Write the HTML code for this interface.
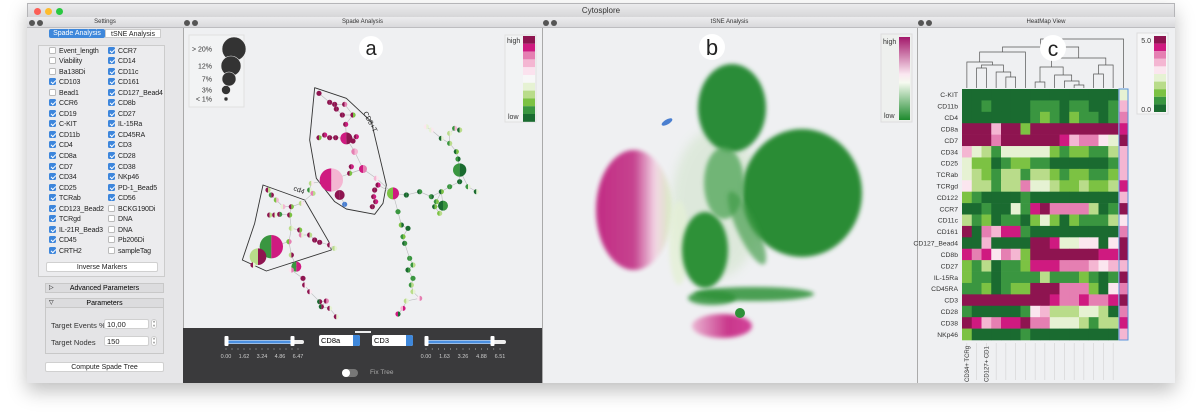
<!DOCTYPE html>
<html><head><meta charset="utf-8">
<style>
*{box-sizing:border-box;margin:0;padding:0}
body{width:1200px;height:412px;background:#fff;font-family:"Liberation Sans",sans-serif;position:relative;overflow:hidden}
.abs{position:absolute}
#win{left:27px;top:3px;width:1148px;height:380px;background:#e9e9eb;border:1px solid #b5b5b8;box-shadow:0 8px 18px rgba(0,0,0,.25)}
.ph{position:absolute;height:11px;background:linear-gradient(#ececee,#d9d9dc);border-bottom:1px solid #bdbdc0;font-size:6px;color:#333;text-align:center;line-height:11px}
.pbody{position:absolute;background:#eff0f2;border-left:1px solid #aaa}
.cb{position:absolute;font-size:7px;color:#222;line-height:9px;white-space:nowrap;letter-spacing:-0.1px}
.cb i{display:inline-block;width:7px;height:7px;border-radius:1.5px;vertical-align:-1px;margin-right:3px;border:1px solid #bbb;background:#fff}
.cb i.on{background:#3d86dc;border-color:#3d86dc;position:relative}
.cb i.on:after{content:"";position:absolute;left:1.5px;top:0px;width:2px;height:4px;border:solid #fff;border-width:0 1.2px 1.2px 0;transform:rotate(45deg)}
.btn{position:absolute;background:#fff;border:1px solid #d0d0d0;border-radius:2px;font-size:7px;text-align:center;color:#222}
.hl{font-size:7.5px;color:#333}
</style></head><body>
<div id="win" class="abs">
 <div class="abs" style="left:0;top:0;width:1146px;height:14px;background:linear-gradient(#ebebed,#d6d6d8);border-bottom:1px solid #b8b8b8;text-align:center;font-size:8px;line-height:14px;color:#333">Cytosplore</div>
 <div class="abs" style="left:6px;top:4px;width:7px;height:7px;border-radius:50%;background:#fc5f57"></div>
 <div class="abs" style="left:17px;top:4px;width:7px;height:7px;border-radius:50%;background:#fdbc2e"></div>
 <div class="abs" style="left:28px;top:4px;width:7px;height:7px;border-radius:50%;background:#29c840"></div>
</div>

<!-- Settings panel -->
<div class="ph" style="left:27px;top:17px;width:156px">Settings</div>
<div class="pbody" style="left:27px;top:28px;width:156px;height:355px;background:#e6e6e8;border-left:none"></div>
<div class="abs" style="left:49px;top:29px;width:56px;height:9px;background:#3f88db;color:#fff;font-size:7px;text-align:center;line-height:9px;border-radius:2px">Spade Analysis</div>
<div class="abs" style="left:105px;top:29px;width:56px;height:9px;background:#fff;color:#222;font-size:7px;text-align:center;line-height:9px;border:1px solid #ccc">tSNE Analysis</div>
<div class="abs" style="left:38px;top:45px;width:127px;height:232px;border:1px solid #ccc;background:#ececee"></div>
<div id="cbs"></div>
<div class="btn" style="left:46px;top:262px;width:112px;height:10px;line-height:9px">Inverse Markers</div>
<div class="abs" style="left:45px;top:283px;width:119px;height:10px;background:#dcdcde;border:1px solid #c8c8c8;font-size:7px;line-height:9px;text-align:center"><span style="position:absolute;left:3px;font-size:6px">▷</span>Advanced Parameters</div>
<div class="abs" style="left:45px;top:298px;width:119px;height:56px;background:#e4e4e6;border:1px solid #c8c8c8"></div>
<div class="abs" style="left:45px;top:298px;width:119px;height:10px;background:#dcdcde;border:1px solid #c8c8c8;font-size:7px;line-height:9px;text-align:center"><span style="position:absolute;left:3px;font-size:6px">▽</span>Parameters</div>
<div class="abs hl" style="left:51px;top:321px">Target Events %</div>
<div class="btn" style="left:104px;top:319px;width:45px;height:10px;text-align:left;padding-left:2px;line-height:9px;font-size:7.5px">10,00</div>
<div class="abs" style="left:151px;top:319px;width:6px;height:10px;border:1px solid #ccc;border-radius:3px;background:#fff;font-size:4px;text-align:center;line-height:4px">˄<br>˅</div>
<div class="abs hl" style="left:51px;top:338px">Target Nodes</div>
<div class="btn" style="left:104px;top:336px;width:45px;height:10px;text-align:left;padding-left:2px;line-height:9px;font-size:7.5px">150</div>
<div class="abs" style="left:151px;top:336px;width:6px;height:10px;border:1px solid #ccc;border-radius:3px;background:#fff;font-size:4px;text-align:center;line-height:4px">˄<br>˅</div>
<div class="btn" style="left:45px;top:362px;width:119px;height:10px;line-height:9px">Compute Spade Tree</div>

<!-- Spade panel -->
<div class="ph" style="left:183px;top:17px;width:359px">Spade Analysis</div>
<div class="pbody" style="left:183px;top:28px;width:359px;height:300px"></div>
<svg class="abs" style="left:0;top:0" width="1200" height="412" id="spade"></svg>
<div class="abs" style="left:183px;top:328px;width:359px;height:55px;background:#3a3a3c"></div>
<svg class="abs" style="left:0;top:0" width="1200" height="412" id="ctl"></svg>
<div class="abs" style="left:319px;top:335px;width:41px;height:11px;background:#fff;border-radius:2px;font-size:7.5px;line-height:11px;padding-left:2px">CD8a<span style="position:absolute;right:0;top:0;width:7px;height:11px;background:#3f88db;border-radius:0 2px 2px 0"></span></div>
<div class="abs" style="left:372px;top:335px;width:41px;height:11px;background:#fff;border-radius:2px;font-size:7.5px;line-height:11px;padding-left:2px">CD3<span style="position:absolute;right:0;top:0;width:7px;height:11px;background:#3f88db;border-radius:0 2px 2px 0"></span></div>
<div class="abs" style="left:342px;top:369px;width:16px;height:8px;background:#777;border-radius:4px"><span style="position:absolute;left:0;top:0;width:8px;height:8px;border-radius:50%;background:#fff"></span></div>
<div class="abs" style="left:370px;top:369px;font-size:6.5px;color:#aaa">Fix Tree</div>

<!-- tSNE panel -->
<div class="ph" style="left:542px;top:17px;width:375px">tSNE Analysis</div>
<div class="pbody" style="left:542px;top:28px;width:375px;height:355px"></div>
<svg class="abs" style="left:542px;top:28px" width="375" height="355">
 <defs>
  <filter id="bl" x="-30%" y="-30%" width="160%" height="160%"><feGaussianBlur stdDeviation="2"/></filter>
  <filter id="bl2" x="-30%" y="-30%" width="160%" height="160%"><feGaussianBlur stdDeviation="5"/></filter>
  <linearGradient id="pk" x1="0" x2="1" y1="0" y2="0"><stop offset="0" stop-color="#c0237f"/><stop offset="0.5" stop-color="#c43a8a"/><stop offset="0.78" stop-color="#f2d4e4"/><stop offset="1" stop-color="#d7ebc0"/></linearGradient>
  <linearGradient id="pk2" x1="0" x2="1"><stop offset="0" stop-color="#eab5d2"/><stop offset="0.6" stop-color="#c9378b"/><stop offset="1" stop-color="#d3449a"/></linearGradient>
  <linearGradient id="tl" x1="0" x2="0" y1="0" y2="1"><stop offset="0" stop-color="#a3186b"/><stop offset="0.45" stop-color="#fbe8f1"/><stop offset="0.55" stop-color="#f6faf0"/><stop offset="1" stop-color="#1e8a2e"/></linearGradient>
 </defs>
 <g>
 <ellipse cx="175" cy="175" rx="45" ry="75" fill="#b7d9a8" opacity=".3" filter="url(#bl2)"/>
 <ellipse cx="92" cy="182" rx="38" ry="60" fill="url(#pk)" opacity=".95" filter="url(#bl)"/>
 <ellipse cx="180" cy="298" rx="30" ry="12" fill="url(#pk2)" filter="url(#bl)"/>
 <ellipse cx="137" cy="215" rx="10" ry="42" fill="#e4f0d6" opacity=".8" filter="url(#bl)"/>
 <ellipse cx="190" cy="80" rx="34" ry="44" fill="#2b8c38" filter="url(#bl)"/>
 <ellipse cx="260" cy="165" rx="60" ry="64" fill="#2a8c36" filter="url(#bl)"/>
 <ellipse cx="163" cy="222" rx="23" ry="38" fill="#2e9139" filter="url(#bl)"/>
 <ellipse cx="182" cy="155" rx="20" ry="36" fill="#4ea455" opacity=".75" filter="url(#bl)"/>
 <ellipse cx="205" cy="200" rx="10" ry="40" fill="#3d9a45" opacity=".65" filter="url(#bl)" transform="rotate(-25 205 200)"/>
 <ellipse cx="212" cy="266" rx="60" ry="7" fill="#2e9139" opacity=".85" filter="url(#bl)"/>
 <ellipse cx="170" cy="270" rx="24" ry="7" fill="#2e9139" opacity=".85" filter="url(#bl)"/>
 <ellipse cx="198" cy="285" rx="5" ry="5" fill="#2e9139"/>
 <ellipse cx="125" cy="94" rx="6" ry="2.5" fill="#4a7fd0" transform="rotate(-30 125 94)"/>
 </g>
 <circle cx="170" cy="19" r="13" fill="#fff"/>
 <text x="170" y="27" font-size="22" text-anchor="middle" font-family="Liberation Sans" fill="#222">b</text>
 <rect x="339" y="6" width="31" height="88" fill="#eef0ee" stroke="#ddd"/>
 <rect x="357" y="9" width="11" height="83" fill="url(#tl)"/>
 <text x="341" y="16" font-size="7" fill="#333">high</text>
 <text x="342" y="90" font-size="7" fill="#333">low</text>
</svg>

<!-- Heatmap panel -->
<div class="ph" style="left:917px;top:17px;width:258px">HeatMap View</div>
<div class="pbody" style="left:917px;top:28px;width:258px;height:355px"></div>
<svg class="abs" style="left:0;top:0" width="1200" height="412" id="heat"></svg>

<!-- panel header icons -->
<svg class="abs" style="left:0;top:0" width="1200" height="412">
 <g fill="#555"><circle cx="32" cy="23" r="3"/><circle cx="40" cy="23" r="3"/><circle cx="187" cy="23" r="3"/><circle cx="195" cy="23" r="3"/><circle cx="546" cy="23" r="3"/><circle cx="554" cy="23" r="3"/><circle cx="921" cy="23" r="3"/><circle cx="929" cy="23" r="3"/></g>
</svg>

<script>
var NS="http://www.w3.org/2000/svg";
function mk(p,t,a){var e=document.createElementNS(NS,t);for(var k in a)e.setAttribute(k,a[k]);p.appendChild(e);return e;}
var PAL=["#1a6b30","#3a9640","#7cc243","#b9dc8a","#e6f2d3","#fbe6ef","#f4b6d2","#e57fb2","#cf1a80","#8e1450","#4a7fd0"];

// ---------- checkboxes ----------
var leftMarkers=["Event_length","Viability","Ba138Di","CD103","Bead1","CCR6","CD19","C-KIT","CD11b","CD4","CD8a","CD7","CD34","CD25","TCRab","CD123_Bead2","TCRgd","IL-21R_Bead3","CD45","CRTH2"];
var leftOn=[0,0,0,1,0,1,1,1,1,1,1,1,1,1,1,1,1,1,1,1];
var rightMarkers=["CCR7","CD14","CD11c","CD161","CD127_Bead4","CD8b","CD27","IL-15Ra","CD45RA","CD3","CD28","CD38","NKp46","PD-1_Bead5","CD56","BCKG190Di","DNA","DNA","Pb206Di","sampleTag"];
var rightOn=[1,1,1,1,1,1,1,1,1,1,1,1,1,1,1,0,0,0,0,0];
var cbs=document.getElementById('cbs');
function addCb(lbl,on,x,y){var d=document.createElement('div');d.className='cb';d.style.left=x+'px';d.style.top=y+'px';
 d.innerHTML='<i class="'+(on?'on':'')+'"></i>'+lbl;
 
 
 cbs.appendChild(d);}
for(var i=0;i<20;i++){addCb(leftMarkers[i],leftOn[i],49,46.5+i*10.55);addCb(rightMarkers[i],rightOn[i],108,46.5+i*10.55);}

// ---------- spade tree ----------
var sp=document.getElementById('spade');
function P(zx,zy){return [zx/3+183,zy/3+15];}
var lg=mk(sp,'g',{});


mk(lg,'rect',{x:189,y:35,width:55,height:72,fill:'#f2f3f4',stroke:'#e0e0e0'});
var sizeLabels=["> 20%","12%","7%","3%","< 1%"];
var sizeR=[12,10,7,4.5,2];
var sizeY=[49,66,79,90,99];
var sizeX=[234,231,229,226,226];
for(var i=0;i<5;i++){mk(lg,'circle',{cx:sizeX[i],cy:sizeY[i],r:sizeR[i],fill:'#333',stroke:'#eee','stroke-width':0.6});
 var t=mk(lg,'text',{x:212,y:sizeY[i]+2.5,'font-size':7,'text-anchor':'end',fill:'#333'});t.textContent=sizeLabels[i];}
var cl=mk(sp,'g',{});


mk(cl,'rect',{x:505,y:35,width:31,height:87,fill:'#f2f3f4',stroke:'#e0e0e0'});
var spLeg=["#8e1450","#cf1a80","#e57fb2","#f4b6d2","#fbe2ee","#f7f7f7","#e6f2d3","#b9dc8a","#7cc243","#3a9640","#1a6b30"];
for(var i=0;i<11;i++)mk(cl,'rect',{x:523,y:36+i*7.8,width:12,height:7.8,fill:spLeg[i]});
var t=mk(cl,'text',{x:507,y:43,'font-size':7,fill:'#333'});t.textContent='high';
t=mk(cl,'text',{x:508,y:119,'font-size':7,fill:'#333'});t.textContent='low';
mk(sp,'circle',{cx:371,cy:48,r:12,fill:'#fff'});
t=mk(sp,'text',{x:371,y:55,'font-size':20,'text-anchor':'middle',fill:'#222'});t.textContent='a';
var cd8=[[395,218],[490,250],[565,320],[610,510],[600,565],[575,598],[490,582],[455,560],[400,490],[380,375]];
var cd4=[[240,510],[365,555],[440,685],[445,705],[250,768],[178,735],[215,625]];
function poly(pts,name){var s=pts.map(function(p){var q=P(p[0],p[1]);return q[0]+','+q[1];}).join(' ');
 var e=mk(sp,'polygon',{points:s,fill:'none',stroke:'#333','stroke-width':0.9,'stroke-linejoin':'round'});
 
 }
poly(cd8,'cd8-cluster-outline');poly(cd4,'cd4-cluster-outline');
t=mk(sp,'text',{x:0,y:0,'font-size':7,fill:'#222',transform:'translate(293,190) rotate(22)'});t.textContent='cd4';
t=mk(sp,'text',{x:0,y:0,'font-size':7,fill:'#222',transform:'translate(363,113) rotate(62)'});t.textContent='CD8+T';
var N=[];
function chain(parent,list){var p=parent;list.forEach(function(n){N.push([n[0],n[1],n[2],n[3],n[4],p]);p=N.length-1;});return p;}
var hub=chain(-1,[[630,535,18,2,8]]);
var r1=chain(hub,[[670,540,7,0,0],[710,530,7,0,1],[745,545,7,1,0]]);
var r2=chain(r1,[[775,530,7,0,2]]);
var r3=chain(r2,[[800,515,6,1,1],[830,500,6,0,0],[830,465,20,1,0]]);
chain(r3,[[855,515,5,1,4],[880,530,5,0,4]]);
var r4=chain(r3,[[825,432,6,1,0],[820,410,5,0,2],[800,385,5,1,3]]);
chain(r4,[[775,370,5,0,4],[745,345,5,4,5],[730,335,5,5,4]]);
chain(r4,[[800,355,5,3,4],[815,340,5,1,6],[830,345,4,0,3]]);
chain(r2,[[780,572,15,0,1],[755,575,6,0,2],[770,595,5,2,3]]);
chain(r2,[[760,560,5,1,2]]);
chain(hub,[[645,590,6,1,1],[655,630,6,2,0],[675,640,6,0,0],[660,665,5,1,2],[665,685,5,0,1],[680,730,6,1,1],[690,750,6,1,3],[675,765,6,0,1],[690,790,6,1,1],[685,810,6,1,3],[690,830,6,3,4],[710,850,6,5,7],[670,858,5,3,4],[660,880,5,6,8],[645,897,5,8,0]]);
var c1=chain(hub,[[580,490,8,6,5],[540,462,12,8,7]]);
chain(c1,[[500,475,6,9,2],[505,455,5,9,8]]);
var c2=chain(c1,[[515,410,10,7,6],[490,370,18,8,9]]);
chain(hub,[[585,510,6,9,8],[575,525,6,9,9],[572,545,6,9,8],[578,560,6,9,8],[568,575,6,9,9]]);
var c3=chain(c2,[[488,328,6,9,8],[510,300,8,9,2]]);
chain(c3,[[478,300,6,9,9],[460,282,6,9,9],[440,262,6,9,9],[408,235,6,9,9]]);
chain(c3,[[485,268,6,9,7],[455,268,6,9,9]]);
chain(c2,[[458,368,6,9,9],[440,368,6,9,9],[425,360,6,9,8],[408,368,6,9,2]]);
chain(c2,[[520,365,6,9,8],[510,378,6,9,9]]);
var bp=chain(c1,[[445,495,35,8,6]]);
chain(bp,[[470,540,15,9,9],[485,568,6,10,10]]);
var d0=chain(bp,[[385,505,5,3,5],[380,525,5,1,4],[390,535,5,7,3],[355,565,6,3,5],[325,575,5,9,2]]);
chain(d0,[[300,575,5,4,6],[280,555,5,2,6],[265,540,5,1,9],[255,525,5,9,3]]);
var d1=chain(d0,[[320,600,6,9,2]]);
chain(d1,[[290,598,5,9,1],[275,600,5,9,4],[260,600,5,9,3]]);
var d2=chain(d1,[[325,640,5,3,4]]);
chain(d2,[[350,645,6,9,2],[355,660,5,7,4],[380,660,6,9,3],[395,675,6,9,9],[410,682,6,9,9],[440,690,6,9,5],[455,700,5,3,4]]);
var d3=chain(d2,[[318,680,8,2,7]]);
chain(d3,[[265,695,35,1,8],[225,725,25,3,9],[210,750,4,9,4]]);
chain(d3,[[325,720,6,3,9],[340,755,15,1,8],[325,765,6,5,7],[360,790,6,9,9],[365,810,6,9,5],[380,830,6,9,5],[410,860,6,0,9],[430,858,6,9,7],[415,875,6,0,9],[440,880,6,9,4],[460,905,5,9,4]]);
var eg=mk(sp,'g',{stroke:'#b9b9bb','stroke-width':0.6});
N.forEach(function(n){if(n[5]<0)return;var a=P(n[0],n[1]),b=P(N[n[5]][0],N[n[5]][1]);mk(eg,'line',{x1:a[0],y1:a[1],x2:b[0],y2:b[1]});});
N.forEach(function(n,i){var c=P(n[0],n[1]),r=Math.max(n[2]/3,2.6);
 var g=mk(sp,'g',{});
 
 
 mk(g,'path',{d:'M'+c[0]+','+(c[1]-r)+' A'+r+','+r+' 0 0 0 '+c[0]+','+(c[1]+r)+' Z',fill:PAL[n[3]]});
 mk(g,'path',{d:'M'+c[0]+','+(c[1]-r)+' A'+r+','+r+' 0 0 1 '+c[0]+','+(c[1]+r)+' Z',fill:PAL[n[4]]});
});

// ---------- slider controls ----------
var ctl=document.getElementById('ctl');
mk(ctl,'rect',{x:355,y:331,width:16,height:2,fill:'#eee'});
var ticks1=["0.00","1.62","3.24","4.86","6.47"];
var ticks2=["0.00","1.63","3.26","4.88","6.51"];
function slider(x0,x1,hi,ticks,name){
 var g=mk(ctl,'g',{});
 
 
 mk(g,'rect',{x:x0,y:340,width:x1-x0,height:4,rx:2,fill:'#eee'});
 mk(g,'rect',{x:x0,y:340.5,width:hi-x0,height:3,fill:'#4a8fe0'});
 mk(g,'rect',{x:x0-1.5,y:336,width:4,height:10,rx:1,fill:'#fff'});
 mk(g,'rect',{x:hi-1.5,y:336,width:4,height:10,rx:1,fill:'#fff'});
 var w=x1-x0-6;
 for(var i=0;i<=12;i++)mk(g,'line',{x1:x0+w*i/12,x2:x0+w*i/12,y1:348,y2:350,stroke:'#aaa','stroke-width':0.5});
 ticks.forEach(function(l,i){var t=mk(g,'text',{x:x0+w*i/4,y:358,'font-size':5.5,'text-anchor':'middle',fill:'#ccc'});t.textContent=l;});
}
slider(226,304,292,ticks1,'cd8a-range-slider');
slider(426,506,492,ticks2,'cd3-range-slider');

// ---------- heatmap ----------
var rows=["C-KIT","CD11b","CD4","CD8a","CD7","CD34","CD25","TCRab","TCRgd","CD122","CCR7","CD11c","CD161","CD127_Bead4","CD8b","CD27","IL-15Ra","CD45RA","CD3","CD28","CD38","NKp46"];
var vals=[
"0000000000000000","0010000111011001","0000000121021101","9996992999999999","9997999999867754","6431444442122113",
"4220122110000001","4321331332122112","5331337443223223","2100001000000000","0010041897777301","3120110242021113",
"9076881000000000","0060000998445505","8785762999999988","2130112888777656","2110111131112101","1120122999777205",
"9999999998778778","1000001563334430","9867889774443133","2000001000000000"];
var extra=[4,6,7,8,9,6,6,6,8,6,9,5,7,9,9,6,9,7,9,7,8,6];
var hm=document.getElementById('heat');
var HX=962,HY=89,CW=156/16,RH=251/22;
rows.forEach(function(name,r){
 var lab=mk(hm,'text',{x:958,y:HY+RH*r+RH/2+2.5,'font-size':6.8,'text-anchor':'end',fill:'#333'});lab.textContent=name;
 
 
 for(var c=0;c<16;c++){var e=mk(hm,'rect',{x:HX+c*CW,y:HY+r*RH,width:CW+0.3,height:RH+0.3,fill:PAL[+vals[r][c]]});
  
  }
 var e=mk(hm,'rect',{x:1119.5,y:HY+r*RH,width:8,height:RH+0.3,fill:PAL[extra[r]]});
 
 
});
mk(hm,'rect',{x:1119,y:HY,width:9,height:251,fill:'none',stroke:'#5b95dc','stroke-width':1});
for(var c=0;c<16;c++){mk(hm,'line',{x1:HX+c*CW+CW/2,x2:HX+c*CW+CW/2,y1:343,y2:380,stroke:'#ccc','stroke-width':0.5});}
var colLabels=["CD34+ TCRg","CD127+ CD1"];
var colIdx=[0,2];
colLabels.forEach(function(l,i){var x=HX+colIdx[i]*CW+CW/2+2;var t=mk(hm,'text',{x:0,y:0,'font-size':6,fill:'#333',transform:'translate('+x+',382) rotate(-90)'});t.textContent=l;
 
 });
var merges=[[4,5,77],[3,16,72],[1,2,68],[18,17,65],[0,19,62],[20,6,52],[11,12,85],[10,22,81],[7,8,82],[9,23,75],[24,25,67],[13,14,74],[27,15,65],[26,28,58],[21,29,47],[30,16,39]];
var nx=[],ny=[];
for(var c=0;c<16;c++){nx.push(HX+c*CW+CW/2);ny.push(88);}
var dg=mk(hm,'g',{stroke:'#555','stroke-width':0.7,fill:'none'});


merges.forEach(function(m,i){var a=m[0],b=m[1],y=m[2];
 var ax=nx[a],ay=ny[a],bx,by;
 if(i==merges.length-1){bx=1123.5;by=88;}else{bx=nx[b];by=ny[b];}
 mk(dg,'path',{d:'M'+ax+','+ay+' V'+y+' H'+bx+' V'+by});
 nx.push((ax+bx)/2);ny.push(y);});
mk(hm,'circle',{cx:1053,cy:48,r:13,fill:'#fff'});
var t=mk(hm,'text',{x:1053,y:56,'font-size':21,'text-anchor':'middle',fill:'#222'});t.textContent='c';
var hl=mk(hm,'g',{});


mk(hl,'rect',{x:1137,y:33,width:31,height:81,fill:'#f6f6f7',stroke:'#ddd'});
var hLeg=[9,8,7,6,5,4,3,2,1,0];
hLeg.forEach(function(k,i){mk(hl,'rect',{x:1154,y:36+i*7.6,width:12,height:7.6,fill:PAL[k]});});
t=mk(hl,'text',{x:1151,y:43,'font-size':7,'text-anchor':'end',fill:'#333'});t.textContent='5.0';
t=mk(hl,'text',{x:1151,y:112,'font-size':7,'text-anchor':'end',fill:'#333'});t.textContent='0.0';
</script>
</body></html>
